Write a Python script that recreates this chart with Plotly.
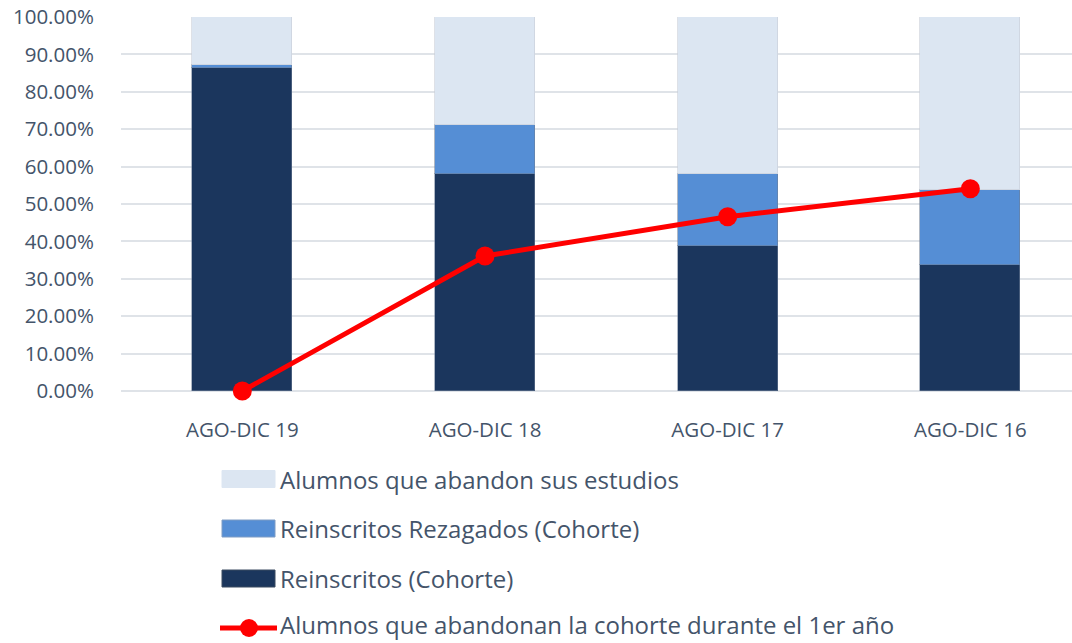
import plotly.graph_objects as go

# Cohort data (share of students)
periodos = ["AGO-DIC 19", "AGO-DIC 18", "AGO-DIC 17", "AGO-DIC 16"]
reinscritos = [0.864, 0.580, 0.389, 0.337]
rezagados = [0.007, 0.130, 0.190, 0.200]
abandono_estudios = [round(1 - a - b, 3) for a, b in zip(reinscritos, rezagados)]
abandono_primer_anio = [0.0, 0.361, 0.466, 0.541]

nombres = [
    "Alumnos que abandon sus estudios",
    "Reinscritos Rezagados (Cohorte)",
    "Reinscritos (Cohorte)",
    "Alumnos que abandonan la cohorte durante el 1er año",
]

C_DARK = "#1b365d"
C_MID = "#558ed5"
C_LIGHT = "#dce6f2"
C_RED = "#ff0000"
C_TEXT = "#44546a"
FONT = "Open Sans"

W, H = 1072, 643
L, R, T, B = 121, 0, 17, 252
PW, PH = W - L - R, H - T - B

x_idx = list(range(len(periodos)))
BAR_W = 0.412
edge = dict(color="rgba(110,125,150,0.55)", width=1)

fig = go.Figure()
fig.add_trace(go.Bar(x=x_idx, y=reinscritos, name=nombres[2], width=BAR_W,
                     marker=dict(color=C_DARK, line=edge)))
fig.add_trace(go.Bar(x=x_idx, y=rezagados, name=nombres[1], width=BAR_W,
                     marker=dict(color=C_MID, line=edge)))
fig.add_trace(go.Bar(x=x_idx, y=abandono_estudios, name=nombres[0], width=BAR_W,
                     marker=dict(color=C_LIGHT, line=dict(color="rgba(200,205,215,0.6)", width=1))))
fig.add_trace(go.Scatter(x=x_idx, y=abandono_primer_anio, name=nombres[3],
                         mode="lines+markers", cliponaxis=False,
                         line=dict(color=C_RED, width=5),
                         marker=dict(color=C_RED, size=19)))


def px_x(px):
    return (px - L) / PW


def px_y(py):
    return (H - B - py) / PH


# Hand-drawn legend below the plot: (symbol y, text y, kind, fill, border, label)
shapes = []
annotations = []
legend_rows = [
    (479, 479, "rect", C_LIGHT, "rgba(220,230,242,1)", nombres[0]),
    (528.5, 528.5, "rect", C_MID, "#7f9cc4", nombres[1]),
    (578.5, 578.5, "rect", C_DARK, "#3a4a60", nombres[2]),
    (628, 625, "line", C_RED, C_RED, nombres[3]),
]
for ys, yt, kind, fill, border, label in legend_rows:
    if kind == "rect":
        shapes.append(dict(type="rect", xref="paper", yref="paper",
                           x0=px_x(222), x1=px_x(275),
                           y0=px_y(ys + 8.5), y1=px_y(ys - 8.5),
                           fillcolor=fill, line=dict(color=border, width=1)))
    else:
        shapes.append(dict(type="line", xref="paper", yref="paper",
                           x0=px_x(220), x1=px_x(277), y0=px_y(ys), y1=px_y(ys),
                           line=dict(color=fill, width=5)))
        shapes.append(dict(type="circle", xref="paper", yref="paper",
                           x0=px_x(240), x1=px_x(258),
                           y0=px_y(ys + 9), y1=px_y(ys - 9),
                           fillcolor=fill, line=dict(color=fill, width=0)))
    annotations.append(dict(xref="paper", yref="paper", x=px_x(279), y=px_y(yt),
                            xanchor="left", yanchor="middle", showarrow=False,
                            borderpad=0,
                            text=label, font=dict(family=FONT, size=24, color=C_TEXT)))

fig.update_layout(
    width=W, height=H,
    margin=dict(l=L, r=R, t=T, b=B, pad=0),
    barmode="stack",
    bargap=0,
    showlegend=False,
    plot_bgcolor="white",
    paper_bgcolor="white",
    font=dict(family=FONT, color=C_TEXT),
    shapes=shapes,
    annotations=annotations,
)
fig.update_xaxes(
    range=[-0.5, -0.5 + PW / 242.67],
    tickmode="array", tickvals=x_idx, ticktext=periodos,
    tickfont=dict(family=FONT, size=20.5, color=C_TEXT),
    showgrid=False, zeroline=False, showline=False,
    ticks="outside", ticklen=20, tickcolor="rgba(0,0,0,0)",
)
fig.update_yaxes(
    range=[0, 1], dtick=0.1, tickformat=".2%",
    tickfont=dict(family=FONT, size=20.5, color=C_TEXT),
    showgrid=True, gridcolor="#dfe3e8", gridwidth=1.5,
    zeroline=True, zerolinecolor="#dfe3e8", zerolinewidth=1.5,
    showline=False,
    ticks="outside", ticklen=22, tickcolor="rgba(0,0,0,0)",
)

fig.write_html("out.html")
